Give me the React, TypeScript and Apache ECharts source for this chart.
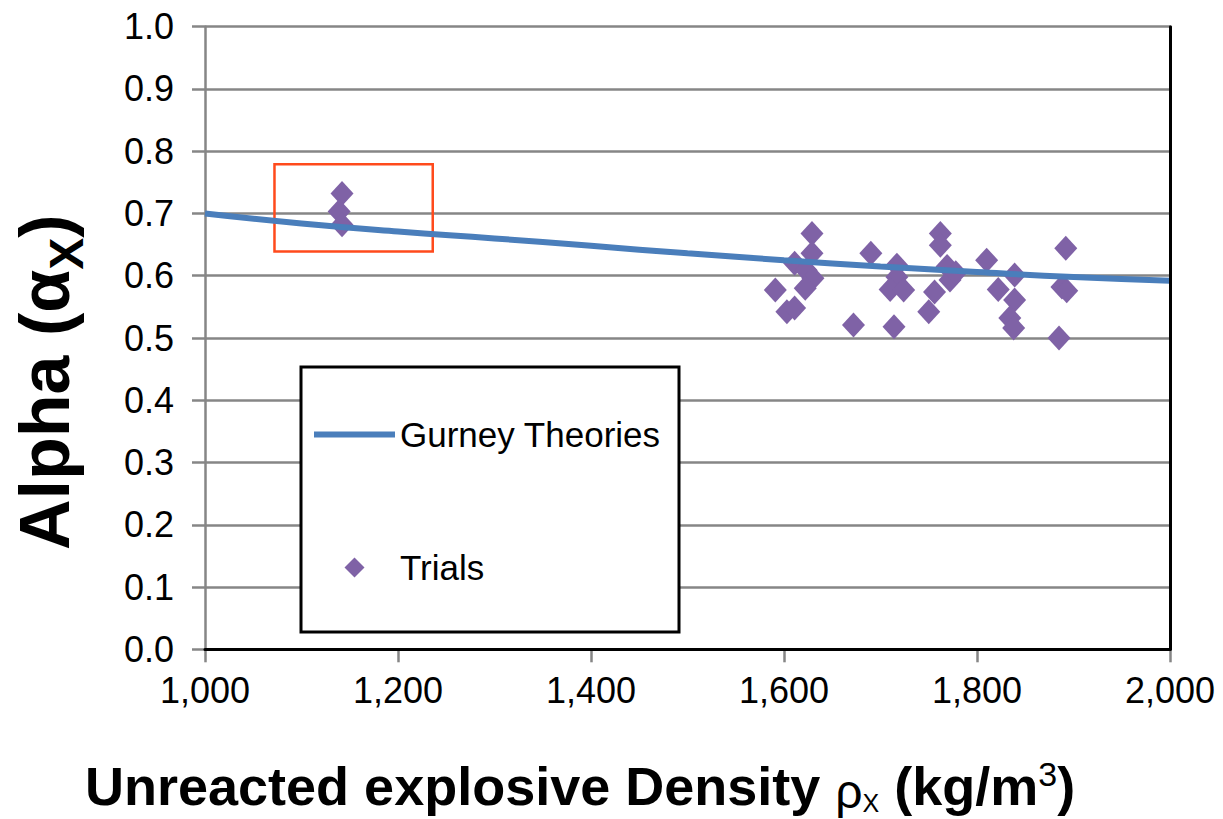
import { useEffect, useRef } from "react";
import * as echarts from "echarts";

// ---- data ----
const xTickValues = [1000, 1200, 1400, 1600, 1800, 2000];
const gurneyDensity = [1000, 1100, 1200, 1300, 1400, 1500, 1600, 1700, 1800, 1900, 2000];
const gurneyAlpha = [0.7, 0.684, 0.671, 0.66, 0.648, 0.636, 0.625, 0.615, 0.606, 0.598, 0.592];

const trialDensity = [
  1142, 1139, 1142,
  1629, 1629, 1611, 1623, 1630, 1622, 1591, 1603, 1611,
  1690, 1717, 1717, 1710, 1724, 1672, 1714,
  1762, 1762, 1769, 1772, 1778, 1756, 1750,
  1810, 1839, 1822, 1839, 1834, 1838,
  1892, 1888, 1893, 1885,
];
const trialAlpha = [
  0.732, 0.703, 0.682,
  0.668, 0.636, 0.62, 0.609, 0.596, 0.58, 0.577, 0.542, 0.548,
  0.636, 0.617, 0.598, 0.578, 0.577, 0.521, 0.518,
  0.668, 0.649, 0.615, 0.593, 0.605, 0.574, 0.542,
  0.625, 0.601, 0.578, 0.561, 0.532, 0.516,
  0.644, 0.582, 0.576, 0.5,
];

// highlighted region (data units)
const highlightDensity = [1072, 1236];
const highlightAlpha = [0.639, 0.779];

const FONT = '"Liberation Sans", Arial, sans-serif';
const GRAY = "#868686";
const LINE_COLOR = "#4a7ebb";
const POINT_COLOR = "#7f62a6";

export default function App() {
  const ref = useRef<HTMLDivElement>(null);

  useEffect(() => {
    if (!ref.current) return;
    const chart = echarts.init(ref.current, null, { renderer: "svg" });

    const gurney = gurneyDensity.map((d, i) => [d, gurneyAlpha[i]]);
    const trials = trialDensity.map((d, i) => [d, trialAlpha[i]]);

    chart.setOption({
      animation: false,
      backgroundColor: "#fff",
      grid: { left: 205, right: 53, top: 26.7, bottom: 169.7, containLabel: false },
      xAxis: [
        {
          type: "value",
          min: xTickValues[0],
          max: xTickValues[xTickValues.length - 1],
          interval: 200,
          axisLine: { show: true, lineStyle: { color: GRAY, width: 2.5 } },
          axisTick: { show: true, length: 13, lineStyle: { color: GRAY, width: 2.5 } },
          splitLine: { show: false },
          axisLabel: {
            margin: 23,
            fontSize: 36,
            fontFamily: FONT,
            color: "#000",
            formatter: (v: number) => v.toLocaleString("en-US"),
          },
        },
        {
          type: "value",
          position: "top",
          min: xTickValues[0],
          max: xTickValues[xTickValues.length - 1],
          z: 5,
          axisLine: { show: true, lineStyle: { color: "#000", width: 3 } },
          axisTick: { show: false },
          axisLabel: { show: false },
          splitLine: { show: false },
        },
      ],
      yAxis: [
        {
          type: "value",
          min: 0,
          max: 1,
          interval: 0.1,
          axisLine: { show: true, lineStyle: { color: GRAY, width: 2.5 } },
          axisTick: { show: true, length: 13, lineStyle: { color: GRAY, width: 2.5 } },
          splitLine: { show: true, lineStyle: { color: GRAY, width: 2.5 } },
          axisLabel: {
            margin: 31,
            fontSize: 36,
            fontFamily: FONT,
            color: "#000",
            formatter: (v: number) => v.toFixed(1),
          },
        },
        {
          type: "value",
          position: "right",
          min: 0,
          max: 1,
          z: 5,
          axisLine: { show: true, lineStyle: { color: "#000", width: 3 } },
          axisTick: { show: false },
          axisLabel: { show: false },
          splitLine: { show: false },
        },
      ],
      legend: {
        orient: "vertical",
        left: 314,
        top: 417,
        padding: 0,
        itemGap: 98,
        itemWidth: 81,
        itemHeight: 20,
        symbolKeepAspect: true,
        textStyle: { fontSize: 35, fontFamily: FONT, color: "#000" },
        data: [
          {
            name: "Gurney Theories",
            icon: "path://M0 0H81V6H0Z",
            itemStyle: { color: LINE_COLOR },
          },
          {
            name: "Trials",
            icon: "path://M10 0L20 10L10 20L0 10Z",
            itemStyle: { color: POINT_COLOR },
          },
        ],
      },
      graphic: [
        {
          type: "rect",
          z: 3,
          shape: { x: 301, y: 367, width: 378, height: 265 },
          style: { fill: "#fff", stroke: "#000", lineWidth: 3 },
        },
        {
          type: "text",
          x: 85,
          y: 786,
          style: {
            text: "{b|Unreacted explosive Density }{r|ρ}{s|X}{b| (kg/m}{p|3}{b|)}",
            align: "left",
            verticalAlign: "middle",
            fill: "#000",
            rich: {
              b: { fontSize: 54, fontWeight: "bold", fontFamily: FONT, lineHeight: 59, verticalAlign: "middle", fill: "#000" },
              r: { fontSize: 48, fontWeight: "normal", fontFamily: FONT, lineHeight: 55, verticalAlign: "bottom", fill: "#000" },
              s: { fontSize: 25, fontWeight: "normal", fontFamily: FONT, lineHeight: 25, verticalAlign: "bottom", fill: "#000" },
              p: { fontSize: 34, fontWeight: "normal", fontFamily: FONT, lineHeight: 40, verticalAlign: "top", fill: "#000" },
            },
          },
        },
        {
          type: "text",
          x: 45,
          y: 550,
          rotation: Math.PI / 2,
          style: {
            text: "{b|Alpha (α}{s|X}{b|)}",
            align: "left",
            verticalAlign: "middle",
            fill: "#000",
            rich: {
              b: { fontSize: 70, fontWeight: "bold", fontFamily: FONT, lineHeight: 90, verticalAlign: "middle", fill: "#000" },
              s: { fontSize: 48, fontWeight: "bold", fontFamily: FONT, lineHeight: 48, verticalAlign: "bottom", fill: "#000" },
            },
          },
        },
      ],
      series: [
        {
          name: "Gurney Theories",
          type: "line",
          data: gurney,
          smooth: true,
          symbol: "none",
          lineStyle: { color: LINE_COLOR, width: 6 },
          itemStyle: { color: LINE_COLOR },
        },
        {
          name: "Trials",
          type: "scatter",
          data: trials,
          symbol: "diamond",
          symbolSize: [23, 25],
          itemStyle: { color: POINT_COLOR, opacity: 1 },
          markArea: {
            silent: true,
            itemStyle: { color: "rgba(0,0,0,0)", borderColor: "#ff4a1c", borderWidth: 2.5 },
            data: [
              [
                { coord: [highlightDensity[0], highlightAlpha[1]] },
                { coord: [highlightDensity[1], highlightAlpha[0]] },
              ],
            ],
          },
        },
      ],
    });

    return () => chart.dispose();
  }, []);

  return (
    <div
      ref={ref}
      style={{ position: "absolute", left: 0, top: 0, width: 1223, height: 819 }}
    />
  );
}
